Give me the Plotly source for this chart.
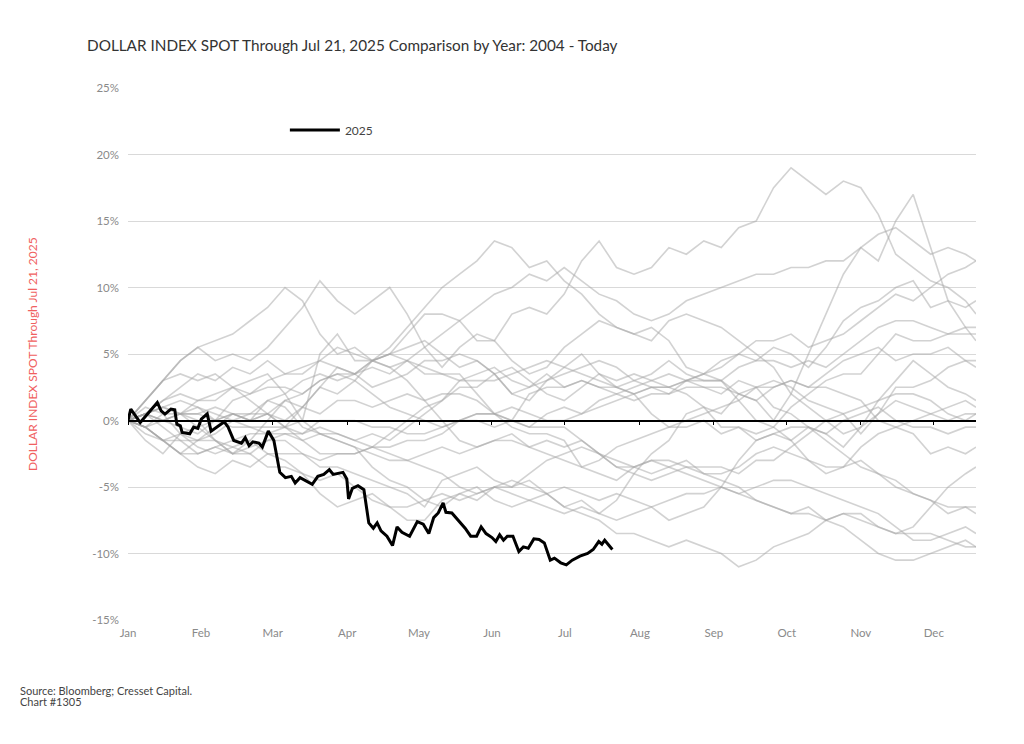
import plotly.graph_objects as go

# ---------------- data ----------------
month_labels = ["Jan", "Feb", "Mar", "Apr", "May", "Jun", "Jul", "Aug", "Sep", "Oct", "Nov", "Dec"]
month_days = [0, 20.9, 41.5, 62.8, 83.4, 104.3, 125.2, 146.7, 167.9, 188.8, 210, 230.9]
y_ticks = [-15, -10, -5, 0, 5, 10, 15, 20, 25]

# trading-day positions of the weekly samples for prior years
grey_days = list(range(0, 241, 5)) + [243]

y2004 = [0, -1.5, -2.5, -1, -0.5, -1.5, -2.5, -1.5, 0, 1.5, 1, 2.5, 2, 3, 4.5, 5, 5.5, 6, 5, 4, 4.5, 3.5, 4, 3, 2,
         1.5, 2.5, 3.5, 3, 3.5, 3, 2.5, 3, 2.5, 2, 3, 2.5, 1, 0.5, -0.5, -1.5, -2.5, -3.5, -4, -5, -5.5, -6, -7, -6.5, -7]
y2005 = [0, 1.5, 3, 3.5, 3, 3.5, 2.5, 1.5, 0.5, -0.5, 1, 2.5, 4, 3.5, 4, 3.5, 4.5, 5.5, 6.5, 7.5, 8.5, 9.5, 10, 11, 10.5,
         11.5, 10.5, 9.5, 9, 8, 7.5, 8, 9, 9.5, 10, 10.5, 11, 11, 11.5, 11.5, 12, 12, 13, 14, 14.5, 13.5, 12.5, 13, 12.5, 12]
y2006 = [0, -0.5, -1.5, -2.5, -1.5, -0.5, 0.5, 0, 0.5, -0.5, 0, -1, -1.5, -2, -3.5, -4.5, -5, -6, -6.5, -5.5, -6, -5, -4.5, -5, -5.5,
         -5, -5.5, -6, -5.5, -6, -6.5, -6, -5.5, -5.5, -5, -5.5, -5, -4.5, -4.5, -5, -5.5, -6, -6.5, -7, -8, -9, -9, -8.5, -8, -8.5]
y2007 = [0, 0.5, 1, 1.5, 1, 0.5, 0, -0.5, -1, -1, -1.5, -1, -1.5, -2, -2.5, -3, -3, -2.5, -2, -2.5, -2, -1.5, -1.5, -2, -2.5,
         -3, -3.5, -4, -4.5, -3.5, -3, -3, -3.5, -4, -4.5, -5, -6, -6.5, -7, -7, -7.5, -8, -9, -10, -10.5, -10.5, -10, -9.5, -9, -9.5]
y2008 = [0, -0.5, -1.5, -1, -1.5, -1.5, -2, -1.5, -2.5, -3, -4, -5.5, -6.5, -6, -5.5, -6.5, -6.5, -6, -5.5, -6, -5.5, -5, -5.5, -6, -6.5,
         -7, -6.5, -7, -6, -4, -2.5, -1.5, 0.5, 1, 0.5, 2, 1.5, 0, 2, 5, 8, 11, 13, 12, 15, 17, 13, 9, 7, 6]
y2009 = [0, 1.5, 3, 4.5, 5.5, 6, 6.5, 7.5, 8.5, 10, 9, 6.5, 5, 5.5, 4.5, 4, 3, 1.5, 0, -1.5, -2, -1.5, -1, -2, -1.5,
         -2, -1.5, -2.5, -3, -3.5, -3, -3.5, -4, -4.5, -5, -5.5, -6, -6.5, -7, -6.5, -7.5, -7, -7.5, -8, -8.5, -8, -6.5, -5, -4, -3.5]
y2010 = [0, 0.5, 1.5, 2.5, 3.5, 3, 4, 3.5, 4.5, 3.5, 4, 4.5, 5.5, 5, 4.5, 5.5, 7, 8.5, 10, 11, 12, 13.5, 13, 11.5, 12,
         10.5, 9.5, 8, 7, 6.5, 6, 7.5, 8, 7.5, 7, 6, 5, 4, 2, 1, 0, -1, -0.5, 1.5, 3, 4.5, 3.5, 2.5, 2, 1.5]
y2011 = [0, 0.5, -0.5, -1.5, -2.5, -2, -2.5, -2.5, -3.5, -3.5, -4, -4.5, -4, -5, -6, -6.5, -7.5, -7.5, -6, -5.5, -5, -6, -6.5, -6, -5.5,
         -6.5, -6, -7, -7.5, -7, -6.5, -7.5, -7, -6.5, -5, -3, -1.5, -1, -1.5, -3, -4, -3.5, -2, -1, -0.5, 0, 0.5, 1, 1.5, 1]
y2012 = [0, 1, 0.5, -1, -2, -2.5, -2, -2.5, -1.5, -1, -1, -0.5, -1, -1.5, -1, -1.5, -0.5, 0.5, 1.5, 3, 3.5, 4, 3, 2.5, 3,
         3.5, 4, 4.5, 4, 3, 2.5, 2.5, 2, 1, -0.5, -0.5, -1.5, -1, -0.5, -0.5, -1, 0, 0.5, 1, 0, -0.5, -0.5, -1, -0.5, -0.5]
y2013 = [0, 0.5, 0, -0.5, -1, 0, 1.5, 2, 3, 3.5, 3.5, 4.5, 4, 3.5, 2.5, 3, 3.5, 4.5, 4.5, 5, 4.5, 3.5, 2, 1.5, 3,
         4, 5, 3.5, 2.5, 2, 2.5, 2, 3, 3, 3, 1.5, 0, -0.5, -1.5, -0.5, -1, -2, -0.5, 0.5, 1.5, 1, 0.5, 0, 0.5, 0.5]
y2014 = [0, 0.5, 1, 0.5, 1, 0, -0.5, -0.5, -0.5, -0.5, -1, 0, 0, 0, -0.5, -0.5, -1, -1, -0.5, 0, 0.5, 0.5, 1, 0.5, 0,
         0, 0.5, 1, 1.5, 2, 2.5, 2.5, 3, 3.5, 4, 5, 6, 6, 6.5, 5.5, 6, 6.5, 7.5, 8.5, 9.5, 9, 10, 11, 11.5, 12]
y2015 = [0, 1.5, 3, 4.5, 5.5, 4.5, 5, 4.5, 5.5, 7, 8.5, 10.5, 9, 8, 9, 10, 8, 5.5, 4, 5.5, 6.5, 6, 4.5, 3.5, 4,
         5.5, 6.5, 7.5, 7, 6.5, 7, 6, 4, 3.5, 4.5, 5, 4.5, 5.5, 5, 4, 5.5, 7.5, 8.5, 9, 10, 10.5, 8.5, 9, 8.5, 9]
y2016 = [0, 0.5, 0, 0.5, 0, -1.5, -2.5, -2, -1.5, -1.5, -2.5, -3.5, -3.5, -4, -4.5, -5, -5.5, -6.5, -4.5, -4, -3.5, -4.5, -5, -4, -3,
         -2.5, -2, -2.5, -3.5, -4, -4.5, -4, -3.5, -3.5, -3.5, -4, -3, -3, -2, -1, 0, 0.5, -1, 0.5, 2.5, 2.5, 3, 4, 4.5, 4]
y2017 = [0, -0.5, -1.5, -2.5, -2.5, -2, -1.5, -1, -1, -0.5, -1.5, -2.5, -2.5, -2.5, -2, -2.5, -3, -3.5, -4, -5, -5.5, -5, -5, -4.5, -5.5,
         -6.5, -7, -7.5, -8.5, -8.5, -9, -9.5, -9, -9.5, -10, -11, -10.5, -9.5, -9, -8.5, -7.5, -7, -7, -8, -8.5, -8.5, -8.5, -9, -9.5, -9.5]
y2018 = [0, -1, -1.5, -2.5, -3.5, -4, -3, -3.5, -2.5, -2.5, -2.5, -3, -2.5, -2.5, -2, -1, 0, 1, 1.5, 2.5, 2.5, 3.5, 2, 2.5, 3.5,
         2.5, 3, 2.5, 2.5, 3, 3.5, 4.5, 3.5, 3, 3, 2, 1.5, 2.5, 3, 2.5, 3.5, 4.5, 5, 5.5, 4.5, 5, 5, 5.5, 4.5, 4.5]
y2019 = [0, -0.5, 0, 0.5, -0.5, 0, 0.5, 0.5, 0.5, 0, 1, 0.5, 1.5, 1.5, 1, 1.5, 2, 1.5, 2, 2, 1.5, 0.5, 0, -0.5, 0.5,
         1, 0.5, 1.5, 2, 1.5, 2, 2, 2.5, 2.5, 2.5, 2, 2.5, 3, 2.5, 1.5, 1, 0.5, 1, 1.5, 2, 2, 1.5, 0.5, 0, 0.5]
y2020 = [0, 0.5, 1, 0.5, 1.5, 1.5, 2.5, 3, 3.5, 2, 0, 5, 6.5, 4.5, 4.5, 4, 4.5, 3.5, 3.5, 3.5, 2, 0.5, 0, -0.5, -0.5,
         -0.5, -1.5, -2.5, -3.5, -3.5, -4, -3.5, -3, -4, -4, -3.5, -2.5, -2, -2.5, -3, -3.5, -3.5, -3, -4, -4.5, -5.5, -6, -6.5, -6.5, -6.5]
y2021 = [0, -0.5, 0.5, 0.5, 0.5, 1, 0.5, 0, 0.5, 1.5, 2, 3, 3.5, 3, 2, 1, 0.5, 0, -0.5, 0, 0, -0.5, 0, 2, 2.5,
         2.5, 3, 2.5, 2, 2.5, 3, 3.5, 3, 3.5, 3, 4, 4.5, 4.5, 4, 4.5, 4, 5, 6, 7, 7.5, 7.5, 7, 6.5, 6.5, 6.5]
y2022 = [0, 0.5, 0, 0.5, 0.5, 0, 0.5, 0, 1.5, 2, 3, 3.5, 3, 3.5, 4.5, 5, 6.5, 8, 8, 7.5, 6, 6, 8, 8.5, 8,
         9.5, 12, 13.5, 11.5, 11, 11.5, 13, 12.5, 13.5, 13, 14.5, 15, 17.5, 19, 18, 17, 18, 17.5, 15.5, 12.5, 11.5, 10.5, 10, 9, 8]
y2023 = [0, -0.5, -1.5, -1.5, -1.5, -1, 0, 0.5, 1.5, 1, -0.5, -1, -1, -1.5, -2, -2, -1.5, -1.5, -1, 0, 0.5, 0.5, -0.5, -1, -1,
         -1.5, -3.5, -3, -2, -1.5, -1, -0.5, 0, 0.5, 1, 1.5, 2.5, 2.5, 3, 2.5, 2.5, 2, 1.5, 0, -0.5, -1, -2.5, -2, -2.5, -2]
y2024 = [0, 0.5, 1.5, 2, 1.5, 2, 2.5, 2, 2.5, 2.5, 2, 3, 3.5, 3.5, 4.5, 5, 4.5, 4, 3.5, 3, 3, 3, 3.5, 4, 4.5,
         4, 3.5, 3, 2.5, 2, 0.5, -0.5, -0.5, 0, -1, -0.5, -1, -0.5, 1, 2, 3, 3.5, 3.5, 5, 6.5, 6, 6, 6.5, 7, 7]

prior_years = {
    "2004": y2004, "2005": y2005, "2006": y2006, "2007": y2007, "2008": y2008,
    "2009": y2009, "2010": y2010, "2011": y2011, "2012": y2012, "2013": y2013,
    "2014": y2014, "2015": y2015, "2016": y2016, "2017": y2017, "2018": y2018,
    "2019": y2019, "2020": y2020, "2021": y2021, "2022": y2022, "2023": y2023,
    "2024": y2024,
}

days_2025 = [0, 0.8, 3.5, 6.2, 8.4, 9.5, 10.6, 12.3, 13.4, 14, 15, 15.5, 17.7, 18.8, 20, 21, 22.7, 23.8, 25.4, 27.6,
             28.7, 30.3, 32.5, 33.6, 34.7, 35.8, 37.5, 38.5, 40.2, 41.8, 43.5, 45.1, 46.8, 47.9, 49.3, 51.2, 52.8,
             54.4, 56.1, 57.7, 58.8, 61.6, 62.7, 63.2, 64.3, 65.9, 67.6, 69, 70.3, 71.4, 72.5, 74.2, 75.8, 77.1,
             78.5, 80.7, 82.9, 84.6, 86.2, 87.6, 88.9, 90.3, 91.1, 92.8, 94.9, 96.6, 98.2, 99.9, 101.2, 102.6,
             104.3, 105.4, 106.5, 107.6, 108.7, 110.3, 112, 113.3, 114.7, 116.3, 117.8, 119.3, 121, 122.2, 124,
             125.6, 127.3, 129.5, 131.7, 133.3, 134.9, 135.8, 136.6, 138.8]
pct_2025 = [0, 0.86, -0.15, 0.73, 1.36, 0.73, 0.48, 0.86, 0.8, -0.28, -0.4, -0.9, -1.0, -0.5, -0.6, 0.1, 0.5, -0.8,
            -0.5, -0.1, -0.5, -1.5, -1.7, -1.3, -1.9, -1.6, -1.7, -2.0, -0.8, -1.5, -3.9, -4.3, -4.2, -4.7, -4.3,
            -4.6, -4.8, -4.2, -4.05, -3.7, -4.05, -3.9, -4.4, -5.9, -5.1, -4.9, -5.2, -7.7, -8.1, -7.7, -8.3, -8.7,
            -9.4, -8.0, -8.4, -8.7, -7.6, -7.8, -8.5, -7.3, -6.95, -6.2, -6.9, -6.95, -7.6, -8.1, -8.7, -8.7, -8.0,
            -8.5, -8.8, -9.1, -8.6, -9.0, -8.7, -8.7, -9.85, -9.5, -9.6, -8.9, -8.95, -9.2, -10.5, -10.35, -10.7,
            -10.85, -10.5, -10.2, -10.0, -9.7, -9.1, -9.3, -9.0, -9.7]

title_text = "DOLLAR INDEX SPOT Through Jul 21, 2025 Comparison by Year: 2004 - Today"
y_title_text = "DOLLAR INDEX SPOT Through Jul 21, 2025"
source_lines = ["Source: Bloomberg; Cresset Capital.", "Chart #1305"]

# ---------------- figure ----------------
FONT = "Lato"
fig = go.Figure()

for yr, vals in prior_years.items():
    fig.add_trace(go.Scatter(
        x=grey_days, y=vals, mode="lines", name=yr, showlegend=False,
        line=dict(color="rgba(165,165,165,0.5)", width=1.6), hoverinfo="skip",
    ))

fig.add_trace(go.Scatter(
    x=days_2025, y=pct_2025, mode="lines", name="2025", showlegend=True,
    xaxis="x2", line=dict(color="#000000", width=3),
))

annotations = [
    dict(text=y_title_text, textangle=-90, xref="paper", yref="paper",
         x=(32 - 128) / 848, y=(620 - 354) / 532, xanchor="center", yanchor="middle",
         showarrow=False, font=dict(family=FONT, size=12, color="#f06060")),
]
for i, line in enumerate(source_lines):
    annotations.append(dict(text=line, xref="paper", yref="paper", x=(18 - 128) / 848,
                            y=(620 - (690 + 11 * i)) / 532, xanchor="left", yanchor="middle",
                            align="left", showarrow=False,
                            font=dict(family=FONT, size=11, color="#444444")))

fig.update_layout(
    width=1024, height=744,
    margin=dict(l=120, r=56, t=80, b=132),
    paper_bgcolor="white", plot_bgcolor="white",
    font=dict(family=FONT, size=11, color="#8a8a8a"),
    title=dict(text=title_text, x=79 / 1024, xanchor="left", y=1 - 38 / 744, yanchor="middle",
               font=dict(family=FONT, size=15.3, color="#333333")),
    legend=dict(x=0.185, y=0.921, xanchor="left", yanchor="middle", bgcolor="rgba(0,0,0,0)",
                itemwidth=50, font=dict(family=FONT, size=12, color="#444444")),
    xaxis=dict(range=[0, 243], tickmode="array", tickvals=month_days, ticktext=month_labels,
               showgrid=False, zeroline=False, showline=False, ticks="", ticklabelstandoff=4,
               tickfont=dict(size=11.5, color="#8a8a8a")),
    xaxis2=dict(overlaying="x", matches="x", anchor="free", position=15 / 40, side="bottom",
                tickmode="array", tickvals=month_days, showticklabels=False,
                ticks="outside", ticklen=4, tickwidth=1.2, tickcolor="#000000",
                showline=True, linecolor="#000000", linewidth=1.5, showgrid=False, zeroline=False),
    yaxis=dict(range=[-15, 25], tickmode="array", tickvals=y_ticks,
               ticktext=[f"{v}%" for v in y_ticks], showgrid=True, gridcolor="#d9d9d9", gridwidth=1,
               zeroline=True, zerolinecolor="#000000", zerolinewidth=1.5,
               showline=False, ticks="", ticklabelstandoff=8,
               tickfont=dict(size=11.5, color="#8a8a8a")),
    annotations=annotations,
)

fig.write_html("out.html")
